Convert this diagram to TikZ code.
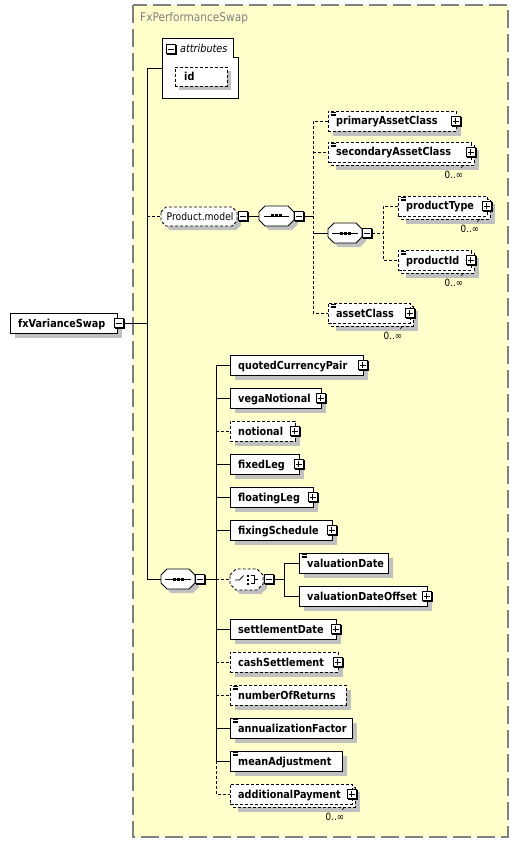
\documentclass[tikz,border=0pt]{standalone}
\usepackage{fontspec}
\setmainfont{DejaVu Sans}[FakeStretch=0.88]
\usetikzlibrary{shadows,calc}
\definecolor{bgy}{RGB}{255,255,204}
\definecolor{shd}{RGB}{192,192,192}
\definecolor{brd}{RGB}{128,128,128}
\tikzset{
  fr/.style={draw=black, fill=white, line width=0.8pt, inner sep=0pt},
  dsh/.style={dash pattern=on 3pt off 2pt},
  lbl/.style={font=\fontsize{11}{13}\selectfont\bfseries, inner sep=0pt},
  occ/.style={font=\fontsize{10}{12}\selectfont, inner sep=0pt},
  conn/.style={line width=0.8pt},
  pmbox/.style={draw=black, fill=white, line width=0.8pt, minimum size=9.5pt, inner sep=0pt,
    drop shadow={shadow xshift=1.2pt, shadow yshift=-1.2pt, opacity=1, fill=black}},
  plusbox/.style={pmbox, path picture={\draw[line width=0.8pt]
    ([xshift=-3pt]path picture bounding box.center) -- ([xshift=3pt]path picture bounding box.center)
    ([yshift=-3pt]path picture bounding box.center) -- ([yshift=3pt]path picture bounding box.center);}},
  minusbox/.style={pmbox, path picture={\draw[line width=0.8pt]
    ([xshift=-3pt]path picture bounding box.center) -- ([xshift=3pt]path picture bounding box.center);}},
  hub/.style={inner sep=0pt, minimum height=20pt},
}
% element box: name, x1, yc, width, style, text
\newcommand\elbox[6]{%
  \fill[shd] ({#2+5},{#3-5}) rectangle ++(#4,20);
  \node[fr,#5,minimum width=#4pt,minimum height=20pt,anchor=west] (#1) at (#2,#3) {};
  \node[lbl,anchor=base west] (#1-t) at ({#2+8},{#3+4}) {#6};
}
% repeating element box
\newcommand\elmult[6]{%
  \fill[shd] ({#2+8},{#3-2}) rectangle ++(#4,20);
  \draw[fr,#5] ({#2+3},{#3-7}) rectangle ++(#4,20);
  \node[fr,#5,minimum width=#4pt,minimum height=20pt,anchor=west] (#1) at (#2,#3) {};
  \node[lbl,anchor=base west] (#1-t) at ({#2+8},{#3+4}) {#6};
  \node[occ] (#1-o) at ({#2+#4-17},{#3+23}) {0..∞};
  \draw[line width=0.6pt] ({#2+#4-7},{#3+13}) -- ({#2+#4-10},{#3+16});
}
\newcommand\eqicon[1]{\foreach \k in {1.8,3.4,5}{\draw[line width=0.6pt] ($(#1.north west)+(2.5,\k)$) -- ++(5,0);}}
% octagon path: cx, cy, w, h, chamfer
\newcommand\octpath[5]{({#1-#3/2},{#2-#4/2+#5}) -- ({#1-#3/2+#5},{#2-#4/2}) -- ({#1+#3/2-#5},{#2-#4/2}) -- ({#1+#3/2},{#2-#4/2+#5}) -- ({#1+#3/2},{#2+#4/2-#5}) -- ({#1+#3/2-#5},{#2+#4/2}) -- ({#1-#3/2+#5},{#2+#4/2}) -- ({#1-#3/2},{#2+#4/2-#5}) -- cycle}
\newcommand\seqicon[2]{%
  \draw[line width=0.8pt] ({#1-13},#2) -- ({#1+12.5},#2);
  \fill ({#1-5.5},{#2-1.5}) rectangle ++(3,3);
  \fill ({#1-1.5},{#2-1.5}) rectangle ++(3,3);
  \fill ({#1+2.5},{#2-1.5}) rectangle ++(3,3);
}
\newcommand\choiceicon[2]{%
  \draw[line width=0.8pt] ({#1-11.5},{#2+0.5}) -- ({#1-7},{#2+0.5}) -- ({#1-3},{#2-4});
  \fill ({#1},{#2-5}) rectangle ++(2,2);
  \fill ({#1},{#2-1}) rectangle ++(2,2);
  \fill ({#1},{#2+3}) rectangle ++(2,2);
  \draw[line width=0.8pt] ({#1+4},{#2-4}) -- ({#1+8},{#2-4}) -- ({#1+8},{#2+4}) -- ({#1+4},{#2+4});
  \draw[line width=0.8pt] ({#1+8},#2) -- ({#1+11},#2);
}
\begin{document}
\begin{tikzpicture}[x=1pt,y=-1pt]
\useasboundingbox (0,0) rectangle (518,842);
\fill[white] (0,0) rectangle (518,842);
% complex type frame
\draw[brd, fill=bgy, line width=1.2pt, dash pattern=on 18pt off 6pt] (133,5) rectangle (508,837);
\node[font=\fontsize{12}{14}\selectfont, text=brd, anchor=base west, inner sep=0pt] (title) at (140,22) {FxPerformanceSwap};

% attributes
\node[inner sep=0pt, minimum width=76pt, minimum height=60pt] (attr) at (200,68) {};
\draw[fr] (162,38) -- (233,38) -- (233,57) -- (238,57) -- (238,98) -- (162,98) -- cycle;
\node[minusbox] (attr-m) at (170.75,49) {};
\node[font=\fontsize{11}{13}\selectfont\itshape, anchor=base west, inner sep=0pt] (attr-t) at (180,53) {attributes};
\fill[shd] (179,71) rectangle (231,90);
\node[fr, dsh, minimum width=52pt, minimum height=19pt, anchor=north west] (id) at (175,67) {};
\node[lbl, anchor=base west] (id-t) at (184,80.5) {id};

% root element
\elbox{fxvs}{10}{323}{107}{}{fxVarianceSwap}
\node[minusbox] (fxvs-m) at ([xshift=1pt]fxvs.east) {};

% Product.model group
\fill[shd] \octpath{203}{220.5}{76}{19}{5};
\draw[fr,dsh] \octpath{199}{216.5}{76}{19}{5};
\node[inner sep=0pt, minimum width=76pt, minimum height=19pt] (pm) at (199,216.5) {};
\node[font=\fontsize{10.5}{12}\selectfont, anchor=base west, inner sep=0pt] (pm-t) at (166.5,220.5) {Product.model};
\node[minusbox] (pm-m) at (242.75,216) {};

% sequence A
\fill[shd] \octpath{280.5}{220}{35}{20}{6};
\draw[fr] \octpath{276.5}{216}{35}{20}{6};
\seqicon{276.5}{216}
\node[hub, minimum width=35pt] (seqA) at (276.5,216) {};
\node[minusbox] (seqA-m) at (298.75,216) {};

\elbox{pac}{328}{121}{128}{dsh}{primaryAssetClass}
\eqicon{pac}
\node[plusbox] (pac-p) at ([xshift=-1pt]pac.east) {};
\elmult{sac}{328}{152}{143}{dsh}{secondaryAssetClass}
\eqicon{sac}
\node[plusbox] (sac-p) at ([xshift=-1pt]sac.east) {};

% sequence B
\fill[shd] \octpath{349}{237}{34}{20}{6};
\draw[fr] \octpath{345}{233}{34}{20}{6};
\seqicon{345}{233}
\node[hub, minimum width=34pt] (seqB) at (345,233) {};
\node[minusbox] (seqB-m) at (366.75,233) {};

\elmult{pt}{398}{206}{89}{dsh}{productType}
\eqicon{pt}
\node[plusbox] (pt-p) at ([xshift=-1pt]pt.east) {};
\elmult{pid}{398}{260}{73}{dsh}{productId}
\eqicon{pid}
\node[plusbox] (pid-p) at ([xshift=-1pt]pid.east) {};
\elmult{ac}{328}{313}{82}{dsh}{assetClass}
\eqicon{ac}
\node[plusbox] (ac-p) at ([xshift=-1pt]ac.east) {};

% sequence C
\fill[shd] \octpath{182}{583}{34}{20}{6};
\draw[fr] \octpath{178}{579}{34}{20}{6};
\seqicon{178}{579}
\node[hub, minimum width=34pt] (seqC) at (178,579) {};
\node[minusbox] (seqC-m) at (199.75,579) {};

\elbox{qcp}{230}{365}{133}{}{quotedCurrencyPair}
\node[plusbox] (qcp-p) at ([xshift=-1pt]qcp.east) {};
\elbox{vn}{230}{398}{91}{}{vegaNotional}
\node[plusbox] (vn-p) at ([xshift=-1pt]vn.east) {};
\elbox{no}{230}{431}{65}{dsh}{notional}
\node[plusbox] (no-p) at ([xshift=-1pt]no.east) {};
\elbox{fl}{230}{464}{69}{}{fixedLeg}
\node[plusbox] (fl-p) at ([xshift=-1pt]fl.east) {};
\elbox{flt}{230}{497}{83}{}{floatingLeg}
\node[plusbox] (flt-p) at ([xshift=-1pt]flt.east) {};
\elbox{fs}{230}{530}{102}{}{fixingSchedule}
\node[plusbox] (fs-p) at ([xshift=-1pt]fs.east) {};

% choice
\fill[shd] \octpath{250.5}{583.5}{33}{21}{6};
\draw[fr,dsh] \octpath{246.5}{579.5}{33}{21}{6};
\choiceicon{246.5}{579.5}
\node[hub, minimum width=33pt, minimum height=21pt] (ch) at (246.5,579.5) {};
\node[minusbox] (ch-m) at (268.75,579) {};

\elbox{vd}{299}{563}{89}{}{valuationDate}
\eqicon{vd}
\elbox{vdo}{299}{596}{128}{}{valuationDateOffset}
\node[plusbox] (vdo-p) at ([xshift=-1pt]vdo.east) {};

\elbox{sd}{230}{629}{106}{}{settlementDate}
\node[plusbox] (sd-p) at ([xshift=-1pt]sd.east) {};
\elbox{cs}{230}{662}{108}{dsh}{cashSettlement}
\node[plusbox] (cs-p) at ([xshift=-1pt]cs.east) {};
\elbox{nr}{230}{695}{116}{dsh}{numberOfReturns}
\eqicon{nr}
\elbox{af}{230}{728}{122}{}{annualizationFactor}
\eqicon{af}
\elbox{ma}{230}{761}{112}{}{meanAdjustment}
\eqicon{ma}
\elmult{ap}{230}{794}{122}{dsh}{additionalPayment}
\node[plusbox] (ap-p) at ([xshift=-1pt]ap.east) {};

% connectors
\coordinate (v0a) at (147,68);
\coordinate (v0b) at (147,579);
\coordinate (vA) at (313,216);
\coordinate (vB) at (383,233);
\coordinate (vC) at (216,579);
\coordinate (vD) at (284,579);
\draw[conn] (attr.west) -- (v0a) -- (v0b) -- (seqC.west);
\draw[conn] (fxvs-m.east) -- (fxvs-m.east -| v0a);
\draw[conn,dsh] (pm.west -| v0a) -- (pm.west);
\draw[conn] (pm-m.east) -- (seqA.west);
\draw[conn] (seqA-m.east) -- (vA);
\draw[conn,dsh] (pac.west) -| (ac.west -| vA) -- (ac.west);
\draw[conn,dsh] (sac.west -| vA) -- (sac.west);
\draw[conn] (seqB.west -| vA) -- (seqB.west);
\draw[conn,dsh] (seqB-m.east) -- (vB);
\draw[conn,dsh] (pt.west) -| (pid.west -| vB) -- (pid.west);
\draw[conn] (seqC-m.east) -- (vC);
\draw[conn] (qcp.west) -| (ma.west -| vC) -- (ma.west);
\draw[conn,dsh] (ma.west -| vC) |- (ap.west);
\draw[conn] (vn.west -| vC) -- (vn.west);
\draw[conn,dsh] (no.west -| vC) -- (no.west);
\draw[conn] (fl.west -| vC) -- (fl.west);
\draw[conn] (flt.west -| vC) -- (flt.west);
\draw[conn] (fs.west -| vC) -- (fs.west);
\draw[conn,dsh] (ch.west -| vC) -- (ch.west);
\draw[conn] (sd.west -| vC) -- (sd.west);
\draw[conn,dsh] (cs.west -| vC) -- (cs.west);
\draw[conn,dsh] (nr.west -| vC) -- (nr.west);
\draw[conn] (af.west -| vC) -- (af.west);
\draw[conn] (ch-m.east) -- (vD);
\draw[conn] (vd.west) -| (vdo.west -| vD) -- (vdo.west);
\end{tikzpicture}
\end{document}
